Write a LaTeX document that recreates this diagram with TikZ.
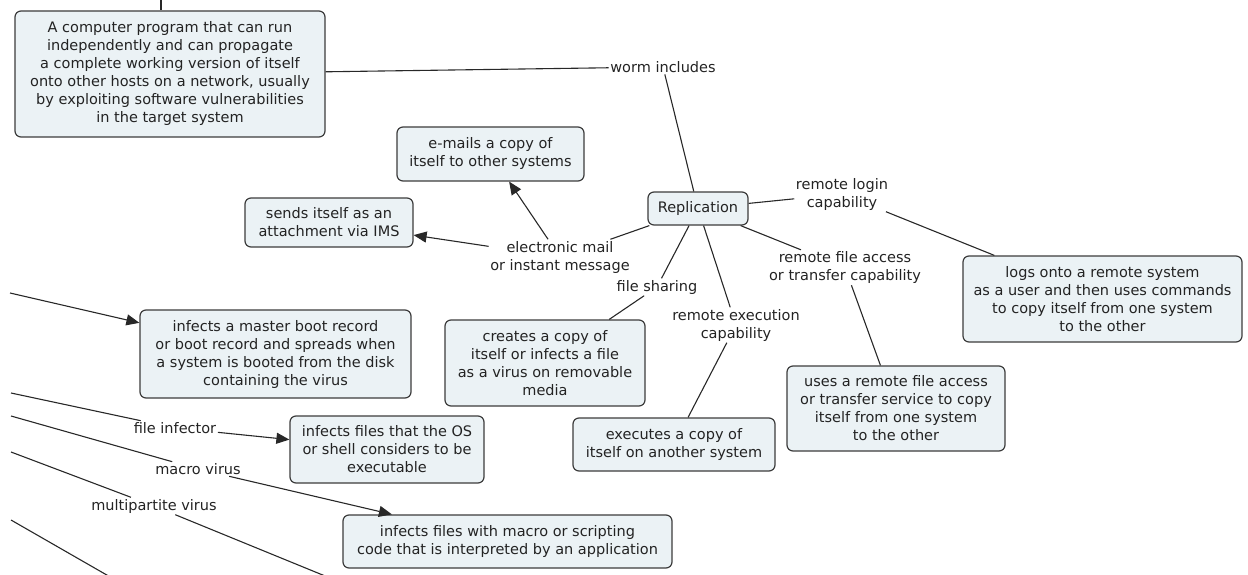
\documentclass[tikz,border=0pt]{standalone}
\usepackage{fontspec}
\setmainfont{DejaVu Sans}
\usetikzlibrary{arrows.meta}
\definecolor{boxfill}{RGB}{235,242,245}
\definecolor{boxline}{RGB}{60,60,60}
\definecolor{txt}{RGB}{35,35,35}
\definecolor{lnk}{RGB}{40,40,40}
\tikzset{
  every node/.style={font=\fontsize{14.5}{18}\selectfont},
  box/.style={draw=boxline, fill=boxfill, rounded corners=6pt, line width=1.2pt, align=center, inner sep=0pt, text=txt},
  lbl/.style={align=center, inner sep=1.5pt, text=txt},
  conn/.style={draw=lnk, line width=1.1pt},
  arr/.style={conn, -{Triangle[length=13pt,width=11pt]}}
}
\begin{document}
\begin{tikzpicture}[x=1pt,y=-1pt]
\useasboundingbox (0,0) rectangle (1248,575);
% concepts
\node[box, minimum width=310, minimum height=126] (worm) at (170,74) {A computer program that can run\\independently and can propagate\\a complete working version of itself\\onto other hosts on a network, usually\\by exploiting software vulnerabilities\\in the target system};
\node[box, minimum width=100, minimum height=33] (repl) at (698,208.5) {Replication};
\node[box, minimum width=187, minimum height=54] (emails) at (490.5,154) {e-mails a copy of\\itself to other systems};
\node[box, minimum width=168, minimum height=49] (sends) at (329,222.5) {sends itself as an\\attachment via IMS};
\node[box, minimum width=200, minimum height=86] (creates) at (545,363) {creates a copy of\\itself or infects a file\\as a virus on removable\\media};
\node[box, minimum width=202, minimum height=53] (executes) at (674,444.5) {executes a copy of\\itself on another system};
\node[box, minimum width=218, minimum height=85] (uses) at (896,408.5) {uses a remote file access\\or transfer service to copy\\itself from one system\\to the other};
\node[box, minimum width=279, minimum height=86] (logs) at (1102.5,299) {logs onto a remote system\\as a user and then uses commands\\to copy itself from one system\\to the other};
\node[box, minimum width=271, minimum height=88] (boot) at (275.5,354) {infects a master boot record\\or boot record and spreads when\\a system is booted from the disk\\containing the virus};
\node[box, minimum width=194, minimum height=67] (osfiles) at (387,449.5) {infects files that the OS\\or shell considers to be\\executable};
\node[box, minimum width=329, minimum height=53] (macrobox) at (507.5,541.5) {infects files with macro or scripting\\code that is interpreted by an application};
% linking phrases
\node[lbl] (wormincl) at (663,67) {worm includes};
\node[lbl] (email) at (560,257) {electronic mail\\or instant message};
\node[lbl] (fshare) at (657,287) {file sharing};
\node[lbl] (remexec) at (736,325) {remote execution\\capability};
\node[lbl] (remfile) at (845,267.5) {remote file access\\or transfer capability};
\node[lbl] (remlogin) at (842,194) {remote login\\capability};
\node[lbl] (fileinf) at (175,428) {file infector};
\node[lbl] (macrov) at (198,469) {macro virus};
\node[lbl] (multi) at (154,506) {multipartite virus};
% free ends
\coordinate (wup) at (161,-10);
\coordinate (s1) at (10,293);
\coordinate (s2) at (11,393);
\coordinate (s3) at (11,416);
\coordinate (s4) at (11,452);
\coordinate (s5) at (11,520);
\coordinate (e1) at (330,578);
\coordinate (e2) at (112,578);
% connectors
\draw[conn] (wup) -- (wup |- worm.north);
\draw[conn] (worm) -- (wormincl);
\draw[conn] (wormincl) -- (repl);
\draw[conn] (repl) -- (email);
\draw[arr] (email) -- (emails);
\draw[arr] (email) -- (sends);
\draw[conn] (repl) -- (fshare);
\draw[conn] (fshare) -- (creates);
\draw[conn] (repl) -- (remexec);
\draw[conn] (remexec) -- (executes);
\draw[conn] (repl) -- (remfile);
\draw[conn] (remfile) -- (uses);
\draw[conn] (repl) -- (remlogin);
\draw[conn] (remlogin) -- (logs);
\draw[arr] (s1) -- (boot);
\draw[conn] (s2) -- (fileinf);
\draw[arr] (fileinf) -- (osfiles);
\draw[conn] (s3) -- (macrov);
\draw[arr] (macrov) -- (macrobox);
\draw[conn] (s4) -- (multi);
\draw[conn] (multi) -- (e1);
\draw[conn] (s5) -- (e2);
\end{tikzpicture}
\end{document}
